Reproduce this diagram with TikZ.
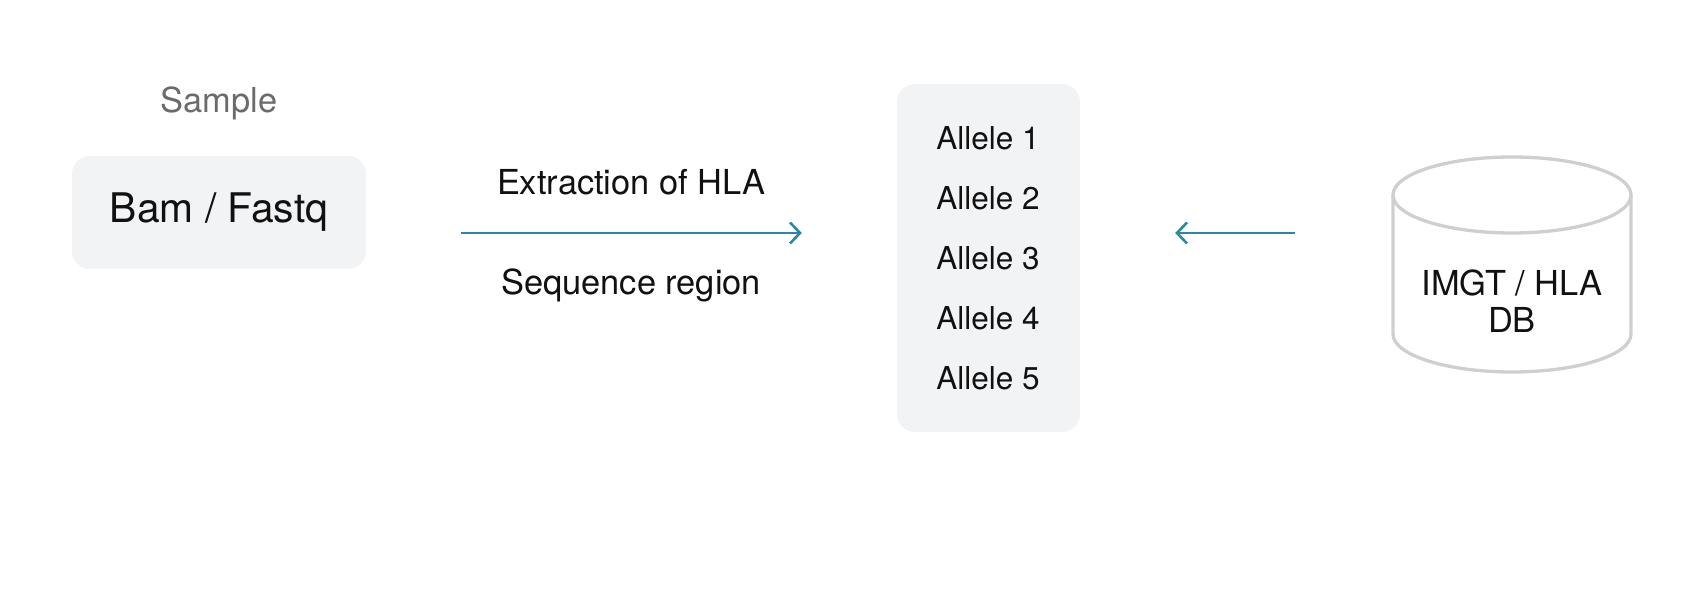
\documentclass[tikz,border=0pt]{standalone}
\usepackage{fontspec}
\setmainfont{TeX Gyre Heros}
\usetikzlibrary{arrows.meta}
\definecolor{boxgray}{HTML}{F2F3F5}
\definecolor{flowteal}{HTML}{2C87A7}
\definecolor{cylgray}{HTML}{CFCFCF}
\definecolor{labelgray}{HTML}{6B6B6B}
\definecolor{inkblack}{HTML}{111111}
\newcommand{\bamfont}{\fontsize{40.8}{48}\selectfont}
\newcommand{\labfont}{\fontsize{34.4}{37}\selectfont}
\newcommand{\allelefont}{\fontsize{31.5}{37}\selectfont}
\tikzset{
  panel/.style = {fill = boxgray, rounded corners = 18pt, inner sep = 0pt},
  flow/.style = {draw = flowteal, line width = 2.6pt, -{Straight Barb[length = 10pt, width = 21pt]}, shorten < = 95pt, shorten > = 95pt},
}
\begin{document}
\begin{tikzpicture}[x = 1pt, y = 1pt, text = inkblack]
\useasboundingbox (0,0) rectangle (1704,591);
\node[text = labelgray, anchor = base, font = \labfont] (sample) at (219,478) {Sample};
\node[panel, minimum width = 294pt, minimum height = 113pt, font = \bamfont] (bam) at (219,378.5) {Bam / Fastq};
\node[panel, minimum width = 183pt, minimum height = 348pt] (alleles) at (988.5,333) {};
\foreach \i in {1,...,5}
  \node[anchor = base, font = \allelefont] (allele\i) at (988, 501 - 60*\i) {Allele \i};
\coordinate (row) at (0,358);
\draw[flow] (bam.east |- row) -- (alleles.west |- row);
\node[anchor = base, font = \labfont] (extract) at (631,396) {Extraction of HLA};
\node[anchor = base, font = \labfont] (region) at (631,296) {Sequence region};
% database cylinder
\draw[cylgray, line width = 3.3pt] (1393,396) -- (1393,257) arc(180:360:119 and 38) -- (1631,396);
\draw[cylgray, line width = 3.3pt] (1512,396) ellipse (119 and 38);
\node[align = center, minimum width = 238pt, font = \labfont] (db) at (1512,290) {IMGT / HLA\\DB};
\draw[flow, shorten < = 98pt] (db.west |- row) -- (alleles.east |- row);
\end{tikzpicture}
\end{document}
